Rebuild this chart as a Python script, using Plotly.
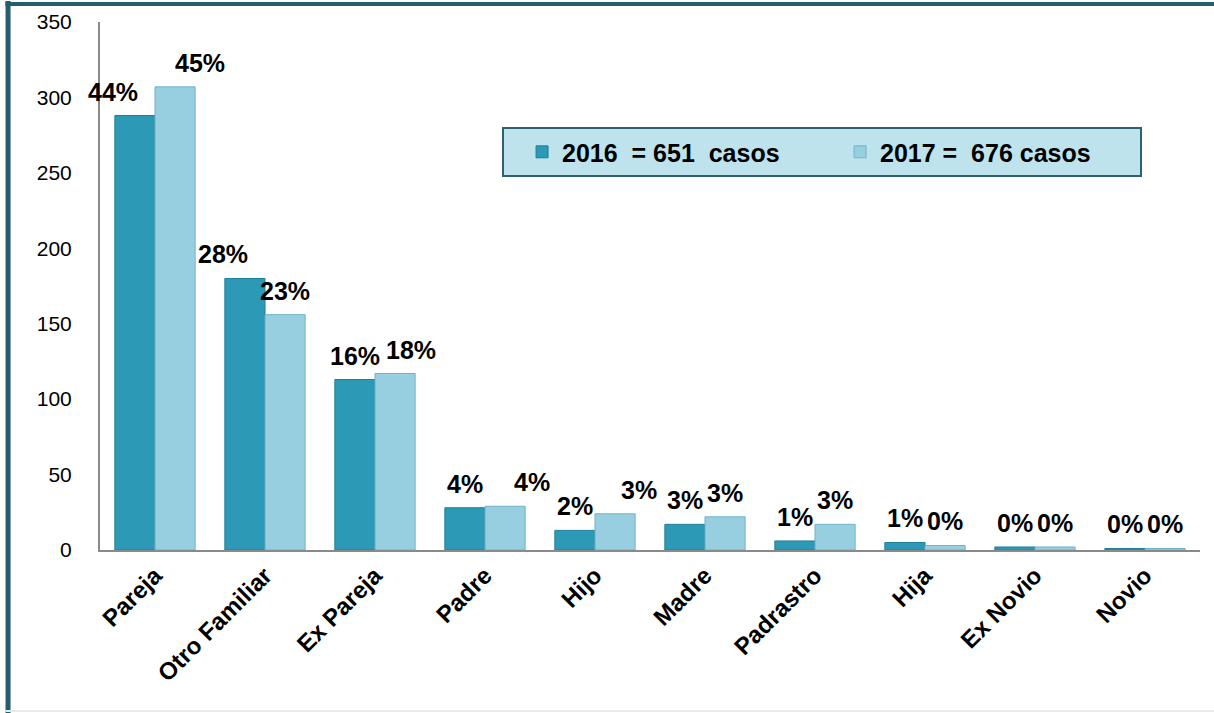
import plotly.graph_objects as go

categories = ["Pareja", "Otro Familiar", "Ex Pareja", "Padre", "Hijo", "Madre",
              "Padrastro", "Hija", "Ex Novio", "Novio"]
values_2016 = [288, 180, 113, 28, 13, 17, 6, 5, 2, 1]
values_2017 = [307, 156, 117, 29, 24, 22, 17, 3, 2, 1]
pct_2016 = ["44%", "28%", "16%", "4%", "2%", "3%", "1%", "1%", "0%", "0%"]
pct_2017 = ["45%", "23%", "18%", "4%", "3%", "3%", "3%", "0%", "0%", "0%"]
name_2016 = "2016\u00a0\u00a0=\u00a0651\u00a0\u00a0casos"
name_2017 = "2017\u00a0=\u00a0\u00a0676\u00a0casos"
y_ticks = [0, 50, 100, 150, 200, 250, 300, 350]

# label horizontal nudges (px), style only
shift_2016 = [-22, -22, 0, 0, 0, 0, 0, 0, 0, 0]
shift_2017 = [25, 0, 16, 27, 24, 0, 0, 0, 0, 0]

C16 = "#2c9ab6"
C17 = "#97cfe1"
FONT = "Liberation Sans, Arial"

fig = go.Figure()
fig.add_trace(go.Bar(x=categories, y=values_2016, name=name_2016,
                     marker=dict(color=C16, line=dict(color="#1f7f98", width=1))))
fig.add_trace(go.Bar(x=categories, y=values_2017, name=name_2017,
                     marker=dict(color=C17, line=dict(color="#6fb3c9", width=1))))

bar_off = 20
for i, c in enumerate(categories):
    fig.add_annotation(x=c, y=values_2016[i], text=pct_2016[i], showarrow=False,
                       xref="x", yref="y", yanchor="bottom", xanchor="center",
                       xshift=-bar_off + shift_2016[i], yshift=8,
                       font=dict(family=FONT, size=25, color="#000", weight="bold"))
    fig.add_annotation(x=c, y=values_2017[i], text=pct_2017[i], showarrow=False,
                       xref="x", yref="y", yanchor="bottom", xanchor="center",
                       xshift=bar_off + shift_2017[i], yshift=8,
                       font=dict(family=FONT, size=25, color="#000", weight="bold"))

# frame lines of the picture
fig.add_shape(type="line", xref="paper", yref="paper", x0=-0.0836, x1=-0.0836, y0=-0.31, y1=1.04,
              line=dict(color="#245d6d", width=5))
fig.add_shape(type="line", xref="paper", yref="paper", x0=-0.086, x1=1.013, y0=1.034, y1=1.034,
              line=dict(color="#245d6d", width=4))
fig.add_shape(type="line", xref="paper", yref="paper", x0=-0.086, x1=1.013, y0=-0.305, y1=-0.305,
              line=dict(color="#e3ebeb", width=2))

fig.update_layout(
    width=1214, height=713,
    margin=dict(l=100, r=14, t=22, b=163, autoexpand=False),
    paper_bgcolor="white", plot_bgcolor="white",
    barmode="group", bargap=0.27, bargroupgap=0,
    font=dict(family=FONT, color="#000"),
    showlegend=True,
    legend=dict(orientation="h", x=0.3655, y=0.801, xanchor="left", yanchor="top",
                bgcolor="#bee3ec", bordercolor="#2d6070", borderwidth=2,
                font=dict(family=FONT, size=25, color="#000", weight="bold"),
                entrywidth=255, entrywidthmode="pixels", indentation=18),
    xaxis=dict(showline=True, linecolor="#8a8a8a", linewidth=2, tickangle=-45, automargin=False,
               range=[-0.5, len(categories) - 0.5],
               tickfont=dict(family=FONT, size=24, color="#000", weight="bold"),
               ticks="", showgrid=False),
    yaxis=dict(range=[0, 350], tickvals=y_ticks, showline=True, linecolor="#8a8a8a", linewidth=2,
               showgrid=False, zeroline=False, ticks="", ticklen=0, automargin=False,
               tickfont=dict(family=FONT, size=21, color="#000"),
               ticklabelstandoff=22),
)

fig.write_html("out.html", config={"displayModeBar": False},
               post_script="document.body.style.margin='0';document.body.style.overflow='hidden';")
